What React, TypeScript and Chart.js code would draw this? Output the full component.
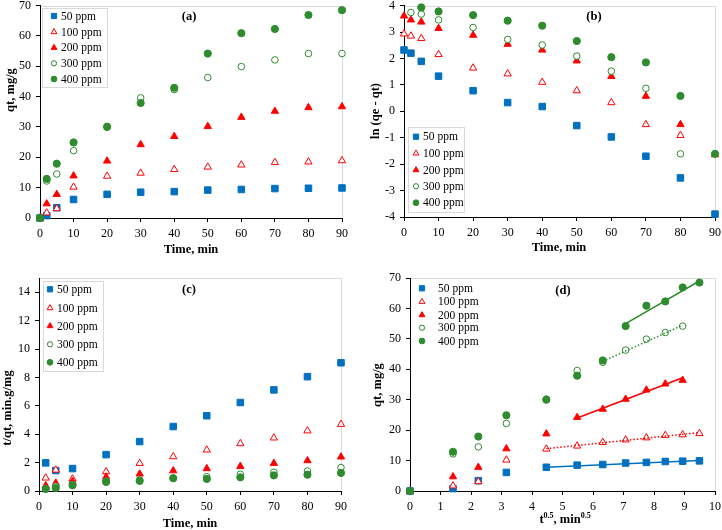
import React, { useEffect, useRef } from 'react';
import { Chart, registerables } from 'chart.js';

Chart.register(...registerables);

// ---------------- data ----------------
const SERIES_LABELS = ['50 ppm', '100 ppm', '200 ppm', '300 ppm', '400 ppm'];

const TIME = [0, 2, 5, 10, 20, 30, 40, 50, 60, 70, 80, 90];
const SQRT_TIME = [0, 1.41, 2.24, 3.16, 4.47, 5.48, 6.32, 7.07, 7.75, 8.37, 8.94, 9.49];

// (a) qt, mg/g
const QT_50 = [0, 0.8, 3.4, 6.1, 7.8, 8.5, 8.7, 9.2, 9.4, 9.7, 9.8, 9.9];
const QT_100 = [0, 1.7, 3.1, 10.2, 13.8, 14.8, 16.0, 16.8, 17.5, 18.3, 18.5, 18.9];
const QT_200 = [0, 4.7, 7.8, 13.9, 18.8, 24.2, 26.9, 30.2, 33.2, 35.2, 36.4, 36.7];
const QT_300 = [0, 12.2, 14.5, 22.2, 30.2, 39.6, 42.3, 46.3, 49.9, 52.1, 54.2, 54.2];
const QT_400 = [0, 12.9, 17.9, 24.9, 30.0, 37.9, 42.9, 54.2, 60.9, 62.3, 66.9, 68.5];

// (b) ln(qe - qt)
const LN_50 = [2.32, 2.2, 1.89, 1.33, 0.78, 0.33, 0.18, -0.54, -0.97, -1.7, -2.52, -3.89];
const LN_100 = [2.93, 2.85, 2.76, 2.15, 1.64, 1.42, 1.1, 0.78, 0.33, -0.5, -0.91, null];
const LN_200 = [3.61, 3.46, 3.38, 3.14, 2.88, 2.54, 2.32, 1.91, 1.32, 0.57, -0.5, -1.64];
const LN_300 = [null, 3.74, 3.68, 3.46, 3.17, 2.72, 2.51, 2.09, 1.52, 0.87, -1.61, null];
const LN_400 = [null, null, 3.93, 3.78, 3.64, 3.43, 3.24, 2.66, 2.05, 1.85, 0.58, -1.61];

// (c) t/qt
const TQ_TIME = [2, 5, 10, 20, 30, 40, 50, 60, 70, 80, 90];
const TQ_50 = [1.98, 1.44, 1.58, 2.56, 3.48, 4.54, 5.3, 6.23, 7.12, 8.05, 9.03];
const TQ_100 = [0.92, 1.48, 0.85, 1.36, 1.95, 2.42, 2.89, 3.34, 3.74, 4.24, 4.7];
const TQ_200 = [0.38, 0.56, 0.68, 0.99, 1.2, 1.43, 1.58, 1.74, 1.95, 2.14, 2.4];
const TQ_300 = [0.14, 0.33, 0.45, 0.7, 0.78, 0.9, 1.01, 1.18, 1.32, 1.41, 1.65];
const TQ_400 = [0.14, 0.21, 0.4, 0.64, 0.71, 0.9, 0.85, 0.96, 1.1, 1.15, 1.27];

// (d) qt vs t^0.5 (200 and 300 ppm end at t^0.5 = 8.94)
const D_QT_50 = QT_50;
const D_QT_100 = QT_100;
const D_QT_200 = [0, 4.7, 7.8, 13.9, 18.8, 24.2, 26.9, 30.2, 33.2, 35.2, 36.4];
const D_QT_300 = [0, 12.2, 14.5, 22.2, 30.2, 39.6, 42.3, 46.3, 49.9, 52.1, 54.2];
const D_QT_400 = QT_400;

// (d) fitted line end points
const FIT_X_50 = [4.47, 9.49];
const FIT_Y_50 = [7.8, 10.0];
const FIT_X_100 = [4.47, 9.49];
const FIT_Y_100 = [13.9, 19.2];
const FIT_X_200 = [5.48, 8.94];
const FIT_Y_200 = [24.0, 37.2];
const FIT_X_300 = [6.32, 8.94];
const FIT_Y_300 = [42.6, 54.5];
const FIT_X_400 = [7.07, 9.49];
const FIT_Y_400 = [55.0, 69.0];

// ticks
const TIME_TICKS = [0, 10, 20, 30, 40, 50, 60, 70, 80, 90];
const A_Y_TICKS = [0, 10, 20, 30, 40, 50, 60, 70];
const B_Y_TICKS = [-4, -3, -2, -1, 0, 1, 2, 3, 4];
const C_Y_TICKS = [0, 2, 4, 6, 8, 10, 12, 14];
const D_X_TICKS = [0, 1, 2, 3, 4, 5, 6, 7, 8, 9, 10];
const D_Y_TICKS = [0, 10, 20, 30, 40, 50, 60, 70];

// ---------------- styles ----------------
const FONT = '"Liberation Serif", "Times New Roman", serif';
const BLUE = '#0070C0';
const RED = '#FF0000';
const GREEN = '#2E8B2E';

type Sty = { shape: 'rect' | 'triangle' | 'circle'; fill: string; stroke: string; r: number };
const STYLES: Sty[] = [
  { shape: 'rect', fill: BLUE, stroke: BLUE, r: 4.6 },
  { shape: 'triangle', fill: '#FFFFFF', stroke: RED, r: 4.2 },
  { shape: 'triangle', fill: RED, stroke: RED, r: 4.2 },
  { shape: 'circle', fill: '#FFFFFF', stroke: GREEN, r: 3.3 },
  { shape: 'circle', fill: GREEN, stroke: GREEN, r: 3.6 },
];

function pts(xs: number[], ys: (number | null)[]) {
  const out: { x: number; y: number }[] = [];
  ys.forEach((y, i) => {
    if (y !== null && y !== undefined) out.push({ x: xs[i], y });
  });
  return out;
}

function scatterSet(i: number, xs: number[], ys: (number | null)[]) {
  const s = STYLES[i];
  return {
    label: SERIES_LABELS[i],
    data: pts(xs, ys),
    pointStyle: s.shape,
    pointRadius: s.r,
    backgroundColor: s.fill,
    borderColor: s.stroke,
    borderWidth: 1,
    showLine: false,
    clip: false,
    order: 10 - i,
  };
}

function fitSet(xs: number[], ys: number[], color: string, dotted: boolean) {
  return {
    label: 'fit',
    data: pts(xs, ys),
    showLine: true,
    pointRadius: 0,
    borderColor: color,
    backgroundColor: color,
    borderWidth: dotted ? 1.5 : 1.6,
    borderDash: dotted ? [1.5, 2] : [],
    clip: false,
    order: 0,
  };
}

type Part = { t: string; sup?: boolean };
type PanelDef = {
  key: string;
  left: number;
  top: number;
  w: number;
  h: number;
  area: { left: number; right: number; top: number; bottom: number };
  x: { min: number; max: number; ticks: number[] };
  y: { min: number; max: number; ticks: number[] };
  datasets: any[];
  label: { text: string; x: number; y: number };
  xTitle: { parts: Part[]; x: number; y: number };
  yTitle: { text: string; x: number; y: number };
  legend: { box?: [number, number, number, number]; mx: number; tx: number; ys: number[] };
};

const PANELS: PanelDef[] = [
  {
    key: 'a',
    left: 0, top: 0, w: 361, h: 265,
    area: { left: 40, right: 342, top: 5, bottom: 218 },
    x: { min: 0, max: 90, ticks: TIME_TICKS },
    y: { min: 0, max: 70, ticks: A_Y_TICKS },
    datasets: [
      scatterSet(0, TIME, QT_50),
      scatterSet(1, TIME, QT_100),
      scatterSet(2, TIME, QT_200),
      scatterSet(3, TIME, QT_300),
      scatterSet(4, TIME, QT_400),
    ],
    label: { text: '(a)', x: 189, y: 17 },
    xTitle: { parts: [{ t: 'Time, min' }], x: 191, y: 250 },
    yTitle: { text: 'qt, mg/g', x: 11, y: 90 },
    legend: { box: [42, 8, 65, 79], mx: 54, tx: 61, ys: [16, 32, 47.7, 63.3, 79] },
  },
  {
    key: 'b',
    left: 361, top: 0, w: 361, h: 265,
    area: { left: 43, right: 354, top: 5, bottom: 217 },
    x: { min: 0, max: 90, ticks: TIME_TICKS },
    y: { min: -4, max: 4, ticks: B_Y_TICKS },
    datasets: [
      scatterSet(0, TIME, LN_50),
      scatterSet(1, TIME, LN_100),
      scatterSet(2, TIME, LN_200),
      scatterSet(3, TIME, LN_300),
      scatterSet(4, TIME, LN_400),
    ],
    label: { text: '(b)', x: 233, y: 17 },
    xTitle: { parts: [{ t: 'Time, min' }], x: 198, y: 248 },
    yTitle: { text: 'ln (qe - qt)', x: 15, y: 111 },
    legend: { box: [47, 127, 56, 85], mx: 55, tx: 62, ys: [136.7, 153.3, 170, 186.3, 202.7] },
  },
  {
    key: 'c',
    left: 0, top: 265, w: 361, h: 265,
    area: { left: 39, right: 341, top: 13, bottom: 226 },
    x: { min: 0, max: 90, ticks: TIME_TICKS },
    y: { min: 0, max: 15, ticks: C_Y_TICKS },
    datasets: [
      scatterSet(0, TQ_TIME, TQ_50),
      scatterSet(1, TQ_TIME, TQ_100),
      scatterSet(2, TQ_TIME, TQ_200),
      scatterSet(3, TQ_TIME, TQ_300),
      scatterSet(4, TQ_TIME, TQ_400),
    ],
    label: { text: '(c)', x: 189, y: 25 },
    xTitle: { parts: [{ t: 'Time, min' }], x: 190, y: 259 },
    yTitle: { text: 't/qt, min.g/mg', x: 8, y: 143 },
    legend: { box: [43, 16, 60, 90], mx: 50, tx: 57, ys: [24.3, 43, 61, 79.3, 97.3] },
  },
  {
    key: 'd',
    left: 361, top: 265, w: 361, h: 265,
    area: { left: 49, right: 354, top: 13, bottom: 226 },
    x: { min: 0, max: 10, ticks: D_X_TICKS },
    y: { min: 0, max: 70, ticks: D_Y_TICKS },
    datasets: [
      scatterSet(0, SQRT_TIME, D_QT_50),
      scatterSet(1, SQRT_TIME, D_QT_100),
      scatterSet(2, SQRT_TIME, D_QT_200),
      scatterSet(3, SQRT_TIME, D_QT_300),
      scatterSet(4, SQRT_TIME, D_QT_400),
      fitSet(FIT_X_50, FIT_Y_50, BLUE, false),
      fitSet(FIT_X_100, FIT_Y_100, RED, true),
      fitSet(FIT_X_200, FIT_Y_200, RED, false),
      fitSet(FIT_X_300, FIT_Y_300, GREEN, true),
      fitSet(FIT_X_400, FIT_Y_400, GREEN, false),
    ],
    label: { text: '(d)', x: 202, y: 26 },
    xTitle: { parts: [{ t: 't' }, { t: '0.5', sup: true }, { t: ', min' }, { t: '0.5', sup: true }], x: 204, y: 255 },
    yTitle: { text: 'qt, mg/g', x: 17, y: 120 },
    legend: { mx: 61, tx: 77, ys: [23.3, 36.7, 50, 62.7, 76] },
  },
];

function drawMarker(ctx: CanvasRenderingContext2D, s: Sty, x: number, y: number, r: number) {
  ctx.beginPath();
  if (s.shape === 'rect') {
    const h = Math.SQRT1_2 * r;
    ctx.rect(x - h, y - h, 2 * h, 2 * h);
  } else if (s.shape === 'triangle') {
    let a = 0;
    ctx.moveTo(x + Math.sin(a) * r, y - Math.cos(a) * r);
    a += (2 * Math.PI) / 3;
    ctx.lineTo(x + Math.sin(a) * r, y - Math.cos(a) * r);
    a += (2 * Math.PI) / 3;
    ctx.lineTo(x + Math.sin(a) * r, y - Math.cos(a) * r);
    ctx.closePath();
  } else {
    ctx.arc(x, y, r, 0, Math.PI * 2);
  }
  ctx.fillStyle = s.fill;
  ctx.fill();
  ctx.strokeStyle = s.stroke;
  ctx.lineWidth = 1;
  ctx.stroke();
}

function makePlugin(def: PanelDef) {
  return {
    id: 'decor_' + def.key,
    beforeDatasetsDraw(chart: any) {
      const { ctx, chartArea: a } = chart;
      ctx.save();
      ctx.strokeStyle = '#D9D9D9';
      ctx.lineWidth = 1;
      ctx.beginPath();
      ctx.moveTo(a.left + 1, Math.round(a.top) + 0.5);
      ctx.lineTo(Math.round(a.right) + 0.5, Math.round(a.top) + 0.5);
      ctx.lineTo(Math.round(a.right) + 0.5, a.bottom - 1);
      ctx.stroke();
      ctx.restore();
    },
    afterDraw(chart: any) {
      const ctx: CanvasRenderingContext2D = chart.ctx;
      ctx.save();
      // legend
      const L = def.legend;
      if (L.box) {
        const [bx, by, bw, bh] = L.box;
        ctx.fillStyle = '#FFFFFF';
        ctx.fillRect(bx, by, bw, bh);
        ctx.strokeStyle = '#D9D9D9';
        ctx.lineWidth = 1;
        ctx.strokeRect(bx + 0.5, by + 0.5, bw, bh);
      }
      ctx.font = `11.5px ${FONT}`;
      ctx.textBaseline = 'middle';
      ctx.textAlign = 'left';
      SERIES_LABELS.forEach((lab, i) => {
        const s = STYLES[i];
        drawMarker(ctx, s, L.mx, L.ys[i], s.r * 0.8);
        ctx.fillStyle = '#000000';
        ctx.fillText(lab, L.tx, L.ys[i] + 0.5);
      });
      // panel label
      ctx.font = `bold 12.5px ${FONT}`;
      ctx.textAlign = 'center';
      ctx.fillStyle = '#000000';
      ctx.fillText(def.label.text, def.label.x, def.label.y);
      // x title with optional superscripts
      const main = `bold 12.5px ${FONT}`;
      const sup = `bold 8px ${FONT}`;
      let total = 0;
      def.xTitle.parts.forEach((p) => {
        ctx.font = p.sup ? sup : main;
        total += ctx.measureText(p.t).width;
      });
      let cx = def.xTitle.x - total / 2;
      ctx.textAlign = 'left';
      def.xTitle.parts.forEach((p) => {
        ctx.font = p.sup ? sup : main;
        ctx.fillText(p.t, cx, def.xTitle.y + (p.sup ? -4 : 0));
        cx += ctx.measureText(p.t).width;
      });
      // y title
      ctx.translate(def.yTitle.x, def.yTitle.y);
      ctx.rotate(-Math.PI / 2);
      ctx.font = main;
      ctx.textAlign = 'center';
      ctx.fillText(def.yTitle.text, 0, 0);
      ctx.restore();
    },
  };
}

function axis(def: PanelDef, which: 'x' | 'y') {
  const cfg = which === 'x' ? def.x : def.y;
  return {
    type: 'linear',
    position: which === 'x' ? 'bottom' : 'left',
    min: cfg.min,
    max: cfg.max,
    afterBuildTicks: (s: any) => {
      s.ticks = cfg.ticks.map((v) => ({ value: v }));
    },
    afterFit: (s: any) => {
      if (which === 'x') s.height = def.h - def.area.bottom;
      else s.width = def.area.left;
      s.paddingTop = 0;
      s.paddingBottom = 0;
      s.paddingLeft = 0;
      s.paddingRight = 0;
    },
    ticks: {
      font: { family: FONT, size: 12 },
      color: '#000000',
      padding: which === 'x' ? 5 : 5,
      autoSkip: false,
      maxRotation: 0,
    },
    grid: {
      display: true,
      drawOnChartArea: false,
      drawTicks: true,
      tickLength: 4,
      color: '#000000',
      lineWidth: 1,
    },
    border: { display: true, color: '#000000', width: 1 },
    title: { display: false },
  };
}

function Panel({ def }: { def: PanelDef }) {
  const ref = useRef<HTMLCanvasElement>(null);
  useEffect(() => {
    const chart = new Chart(ref.current as HTMLCanvasElement, {
      type: 'scatter',
      data: { datasets: def.datasets },
      options: {
        responsive: false,
        animation: false,
        events: [],
        devicePixelRatio: 1,
        layout: {
          padding: { left: 0, top: def.area.top, right: def.w - def.area.right, bottom: 0 },
        },
        plugins: { legend: { display: false }, tooltip: { enabled: false } },
        scales: { x: axis(def, 'x'), y: axis(def, 'y') },
      } as any,
      plugins: [makePlugin(def)],
    } as any);
    return () => chart.destroy();
  }, [def]);
  return (
    <canvas
      ref={ref}
      width={def.w}
      height={def.h}
      style={{ position: 'absolute', left: def.left, top: def.top, width: def.w, height: def.h }}
    />
  );
}

export default function App() {
  return (
    <div style={{ position: 'fixed', left: 0, top: 0, width: 722, height: 530, background: '#FFFFFF' }}>
      {PANELS.map((p) => (
        <Panel key={p.key} def={p} />
      ))}
    </div>
  );
}
